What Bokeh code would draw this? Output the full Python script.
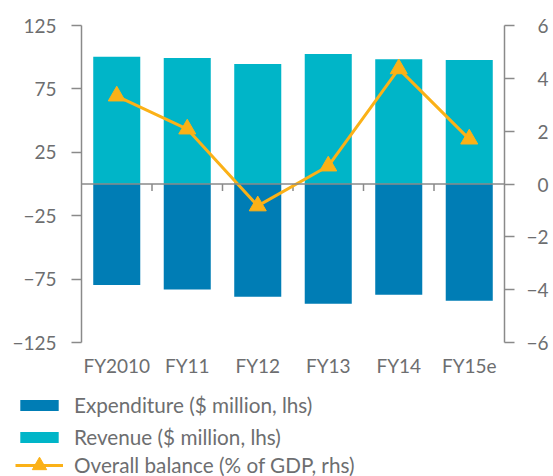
from bokeh.plotting import figure
from bokeh.layouts import column
from bokeh.models import (FactorRange, Range1d, LinearAxis, FixedTicker, Span,
                          Legend, LegendItem, ColumnDataSource)
from bokeh.embed import file_html
from bokeh.resources import INLINE

categories = ["FY2010", "FY11", "FY12", "FY13", "FY14", "FY15e"]
revenue = [100.4, 99.4, 94.6, 102.5, 98.3, 97.8]
expenditure = [-79.7, -83.3, -88.9, -94.4, -87.3, -92.0]
balance = [3.33, 2.08, -0.83, 0.68, 4.36, 1.70]

left_ticks = [-125, -75, -25, 25, 75, 125]
left_tick_labels = ["\u2212125", "\u221275", "\u221225", "25", "75", "125"]
right_ticks = [-6, -4, -2, 0, 2, 4, 6]
right_tick_labels = ["\u22126", "\u22124", "\u22122", "0", "2", "4", "6"]
legend_labels = ["Expenditure ($ million, lhs)", "Revenue ($ million, lhs)",
                 "Overall balance (% of GDP, rhs)"]

C_EXP = "#007DB5"
C_REV = "#00B5C8"
C_BAL = "#FBB117"
GREY = "#8a8a8a"
TXT = "#6d6e70"
FONT = "Lato"

src = ColumnDataSource(dict(cat=categories, rev=revenue, exp=expenditure, bal=balance))


def draw_bars(fig):
    r_exp = fig.vbar(x="cat", top="exp", bottom=0, width=0.667, source=src,
                     fill_color=C_EXP, line_color=None)
    r_rev = fig.vbar(x="cat", top="rev", bottom=0, width=0.667, source=src,
                     fill_color=C_REV, line_color=None)
    return r_exp, r_rev


p = figure(frame_width=423, frame_height=317, x_range=FactorRange(*categories),
           y_range=Range1d(-125, 125), output_backend="svg", toolbar_location=None,
           min_border_left=81, min_border_right=49, min_border_top=25, min_border_bottom=38)
p.frame_align = False
p.extra_y_ranges = {"rhs": Range1d(-6, 6)}
p.outline_line_color = None
p.xgrid.grid_line_color = None
p.ygrid.grid_line_color = None

draw_bars(p)

p.add_layout(Span(location=0, dimension="width", line_color=GREY, line_width=1.5))
bx = [(c, 0.5) for c in categories[:-1]]
p.segment(x0=bx, x1=bx, y0=[0] * len(bx), y1=[-5.5] * len(bx), line_color=GREY, line_width=1.5)

p.line(x="cat", y="bal", source=src, y_range_name="rhs", line_color=C_BAL, line_width=3)
p.scatter(x="cat", y="bal", source=src, y_range_name="rhs", marker="triangle",
          size=17, fill_color=C_BAL, line_color=C_BAL)

xa = p.xaxis[0]
xa.axis_line_color = None
xa.major_tick_line_color = None
xa.major_tick_out = 0
xa.major_tick_in = 0
xa.minor_tick_line_color = None
xa.major_label_standoff = 11
xa.major_label_text_font = FONT
xa.major_label_text_font_size = "19px"
xa.major_label_text_color = TXT


def style_y(ax, standoff):
    ax.axis_line_color = GREY
    ax.axis_line_width = 1.5
    ax.major_tick_line_color = GREY
    ax.major_tick_line_width = 1.5
    ax.major_tick_out = 10
    ax.major_tick_in = 0
    ax.minor_tick_line_color = None
    ax.major_label_standoff = standoff
    ax.major_label_text_font = FONT
    ax.major_label_text_font_size = "19px"
    ax.major_label_text_color = TXT


ya = p.yaxis[0]
ya.ticker = FixedTicker(ticks=left_ticks)
ya.major_label_overrides = dict(zip(left_ticks, left_tick_labels))
style_y(ya, 15)

# right-hand labels are right-aligned in the reference: pad single digits with a figure space
right_shown = [t if t.startswith("\u2212") else "\u2007" + t for t in right_tick_labels]
ra = LinearAxis(y_range_name="rhs", ticker=FixedTicker(ticks=right_ticks))
ra.major_label_overrides = dict(zip(right_ticks, right_shown))
style_y(ra, 12)
p.add_layout(ra, "right")

# Legend panel: a second figure whose view keeps the series out of sight
pl = figure(width=553, height=100, x_range=FactorRange(*categories),
            y_range=Range1d(1000, 1001), output_backend="svg", toolbar_location=None,
            x_axis_location=None, y_axis_location=None,
            min_border_left=0, min_border_right=0, min_border_top=0, min_border_bottom=0)
pl.frame_align = False
pl.outline_line_color = None
pl.xgrid.grid_line_color = None
pl.ygrid.grid_line_color = None
l_exp, l_rev = draw_bars(pl)
l_line = pl.line(x="cat", y="bal", source=src, line_color=C_BAL, line_width=3)
l_pts = pl.scatter(x="cat", y="bal", source=src, marker="triangle",
                   size=17, fill_color=C_BAL, line_color=C_BAL)

common = dict(orientation="vertical", padding=0, margin=0, glyph_width=48,
              label_standoff=11, label_text_font=FONT, label_text_font_size="20.7px",
              label_text_color=TXT, background_fill_alpha=0, border_line_color=None)
legend1 = Legend(items=[
    LegendItem(label=legend_labels[0], renderers=[l_exp]),
    LegendItem(label=legend_labels[1], renderers=[l_rev]),
], location=(15, 31), spacing=8, glyph_height=14, label_height=22, **common)
legend2 = Legend(items=[
    LegendItem(label=legend_labels[2], renderers=[l_line, l_pts]),
], location=(15, -3), spacing=0, glyph_height=36, label_height=36, **common)
pl.add_layout(legend1, "center")
pl.add_layout(legend2, "center")

open("out.html", "w").write(file_html(column(p, pl, spacing=0), INLINE))
